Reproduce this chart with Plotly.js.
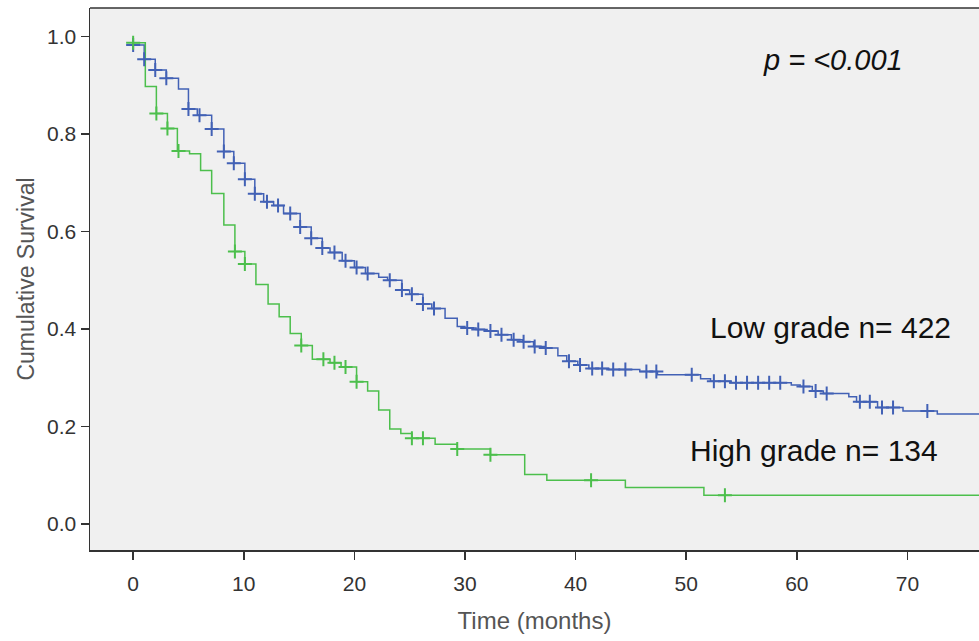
<!DOCTYPE html>
<html>
<head>
<meta charset="utf-8">
<script src="https://cdn.plot.ly/plotly-3.0.1.min.js"></script>
<style>html,body{margin:0;padding:0;background:#fff;}#chart{width:979px;height:641px;}</style>
</head>
<body>
<div id="chart"></div>
<script>
// Low grade (n = 422): event times (months) and survival after each step
var lowTimes = [0, 1.0, 2.0, 3.0, 4.1, 5.0, 5.8, 7.1, 8.2, 9.1, 10.1, 11.0, 11.8, 12.7, 13.6, 15.1, 16.1, 17.1, 17.8, 18.9, 20.0, 21.0, 22.2, 23.0, 24.3, 25.0, 26.2, 27.0, 28.2, 29.3, 30.0, 31.0, 32.0, 33.0, 34.2, 35.2, 36.2, 37.2, 38.4, 39.2, 40.2, 41.2, 43.0, 45.8, 47.4, 51.3, 52.2, 54.0, 59.5, 60.3, 61.4, 62.4, 64.7, 65.4, 67.3, 69.6, 72.7, 77];
var lowSurv  = [0.982, 0.953, 0.931, 0.914, 0.892, 0.851, 0.838, 0.810, 0.764, 0.740, 0.707, 0.677, 0.661, 0.653, 0.637, 0.609, 0.586, 0.566, 0.557, 0.540, 0.526, 0.514, 0.506, 0.500, 0.480, 0.471, 0.451, 0.442, 0.422, 0.405, 0.402, 0.399, 0.396, 0.388, 0.378, 0.374, 0.364, 0.361, 0.345, 0.334, 0.326, 0.319, 0.317, 0.313, 0.306, 0.298, 0.293, 0.290, 0.285, 0.282, 0.273, 0.268, 0.261, 0.251, 0.239, 0.232, 0.226, 0.226];
var lowCensor = [0, 1.0, 2.0, 3.0, 5.0, 6.0, 7.1, 8.2, 9.1, 10.1, 11.0, 12.1, 13.1, 14.2, 15.1, 16.1, 17.1, 18.2, 19.2, 20.2, 21.2, 23.2, 24.3, 25.2, 26.2, 27.2, 30.2, 31.2, 32.3, 33.3, 34.4, 35.3, 36.3, 37.3, 39.4, 40.4, 41.5, 42.4, 43.4, 44.5, 46.4, 47.3, 50.5, 52.5, 53.5, 54.5, 55.5, 56.5, 57.5, 58.5, 60.6, 61.7, 62.7, 65.7, 66.6, 67.7, 68.7, 71.8];

// High grade (n = 134)
var highTimes = [0, 1.1, 2.1, 3.1, 4.0, 5.1, 6.1, 7.1, 8.2, 9.2, 10.1, 11.1, 12.2, 13.2, 14.2, 15.2, 16.2, 17.8, 18.8, 20.2, 21.2, 22.2, 23.2, 24.2, 25.2, 27.3, 29.3, 32.3, 35.4, 37.4, 44.5, 51.6, 77];
var highSurv  = [0.987, 0.897, 0.842, 0.811, 0.765, 0.759, 0.725, 0.678, 0.613, 0.559, 0.533, 0.491, 0.451, 0.425, 0.391, 0.366, 0.338, 0.331, 0.322, 0.292, 0.273, 0.234, 0.195, 0.186, 0.176, 0.164, 0.154, 0.142, 0.102, 0.090, 0.075, 0.059, 0.059];
var highCensor = [0, 2.1, 3.1, 4.1, 9.2, 10.1, 15.2, 17.2, 18.2, 19.2, 20.2, 25.2, 26.2, 29.3, 32.3, 41.4, 53.5];

var xTicks = [0, 10, 20, 30, 40, 50, 60, 70];
var yTicks = [0.0, 0.2, 0.4, 0.6, 0.8, 1.0];
var yTickText = ['0.0', '0.2', '0.4', '0.6', '0.8', '1.0'];

var lowColor = '#4261b5';
var highColor = '#4cbf4c';

function stepAt(times, surv, t) {
  var v = surv[0];
  for (var i = 0; i < times.length; i++) {
    if (times[i] <= t + 1e-9) v = surv[i]; else break;
  }
  return v;
}

function censorY(times, surv, cens) {
  return cens.map(function (t) { return stepAt(times, surv, t); });
}

var traces = [
  { x: lowTimes, y: lowSurv, type: 'scatter', mode: 'lines', line: { shape: 'hv', color: lowColor, width: 1.5 }, hoverinfo: 'skip', showlegend: false },
  { x: highTimes, y: highSurv, type: 'scatter', mode: 'lines', line: { shape: 'hv', color: highColor, width: 1.5 }, hoverinfo: 'skip', showlegend: false },
  { x: lowCensor, y: censorY(lowTimes, lowSurv, lowCensor), type: 'scatter', mode: 'markers',
    marker: { symbol: 'cross-thin', size: 10, color: lowColor, line: { color: lowColor, width: 2 } }, showlegend: false },
  { x: highCensor, y: censorY(highTimes, highSurv, highCensor), type: 'scatter', mode: 'markers',
    marker: { symbol: 'cross-thin', size: 10, color: highColor, line: { color: highColor, width: 2 } }, showlegend: false }
];

var fontFam = 'Liberation Sans, Arial, sans-serif';

var layout = {
  width: 979, height: 641,
  margin: { l: 90, r: 0, t: 8, b: 91 },
  paper_bgcolor: '#ffffff',
  plot_bgcolor: '#f0f0f0',
  font: { family: fontFam, color: '#333333' },
  xaxis: {
    range: [-3.9, 76.47], tickvals: xTicks, ticks: 'outside', ticklen: 8, tickwidth: 1.5, tickcolor: '#333',
    ticklabelstandoff: 6,
    showgrid: false, zeroline: false, showline: true, linecolor: '#333', linewidth: 1.5,
    tickfont: { size: 21, color: '#333' },
    title: { text: 'Time (months)', font: { size: 24, color: '#555' }, standoff: 18 }
  },
  yaxis: {
    range: [-0.053, 1.058], tickvals: yTicks, ticktext: yTickText, ticks: 'outside', ticklen: 8, tickwidth: 1.5, tickcolor: '#333',
    showgrid: false, zeroline: false, showline: true, linecolor: '#333', linewidth: 1.5,
    tickfont: { size: 21, color: '#333' },
    title: { text: 'Cumulative Survival', font: { size: 23, color: '#555' }, standoff: 6 }
  },
  shapes: [
    { type: 'line', xref: 'paper', yref: 'paper', x0: 0, x1: 1, y0: 1, y1: 1, line: { color: '#333', width: 1.5 } }
  ],
  annotations: [
    { xref: 'paper', yref: 'paper', x: 0.836, y: 0.904, xanchor: 'center', yanchor: 'middle', text: '<i>p = <0.001</i>', showarrow: false, font: { size: 29, color: '#111' } },
    { xref: 'paper', yref: 'paper', x: 0.833, y: 0.410, xanchor: 'center', yanchor: 'middle', text: 'Low grade n= 422', showarrow: false, font: { size: 30, color: '#111' } },
    { xref: 'paper', yref: 'paper', x: 0.814, y: 0.184, xanchor: 'center', yanchor: 'middle', text: 'High grade n= 134', showarrow: false, font: { size: 30, color: '#111' } }
  ]
};

Plotly.newPlot('chart', traces, layout, { displayModeBar: false, staticPlot: true });
</script>
</body>
</html>
